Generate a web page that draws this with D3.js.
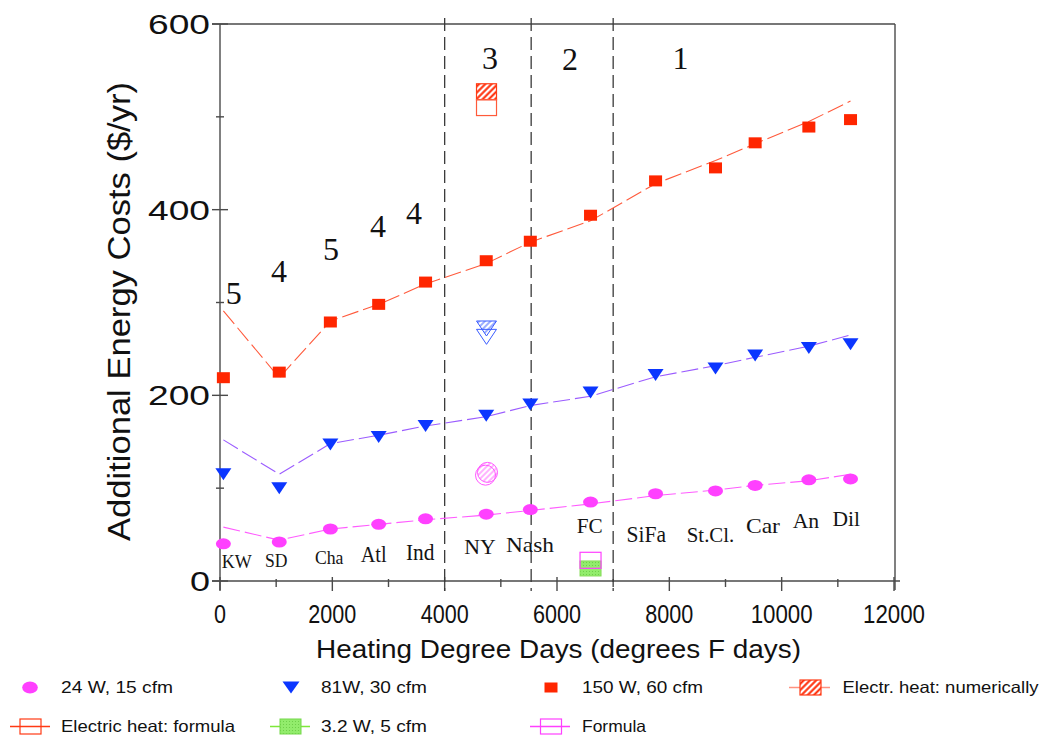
<!DOCTYPE html>
<html>
<head>
<meta charset="utf-8">
<script src="https://cdn.jsdelivr.net/npm/d3@7"></script>
<style>
  body { margin: 0; background: #fff; }
  text { font-family: "Liberation Sans", Arial, sans-serif; }
  .serif { font-family: "Liberation Serif", "Times New Roman", serif; }
</style>
</head>
<body>
<svg id="chart" width="1044" height="738"></svg>
<script>
// ---- data ---------------------------------------------------------------
const cities = ["KW", "SD", "Cha", "Atl", "Ind", "NY", "Nash", "FC", "SiFa", "St.Cl.", "Car", "An", "Dil"];
const hdd = [60, 1055, 1965, 2825, 3660, 4740, 5525, 6597, 7755, 8822, 9528, 10484, 11226];

// simulated annual costs ($/yr) per fan size
const cost150W = [219, 225, 279, 298, 322, 345, 366, 394, 431, 445, 472, 489, 497];
const cost81W  = [115, 100, 147, 155, 167, 178, 190, 203, 222, 229, 243, 251, 255];
const cost24W  = [40, 42, 56, 61, 67, 72, 77, 85, 94, 97, 103, 109, 110];

// formula estimates per fan size (dashed lines)
const fit150W = [291, 219, 280, 298, 320, 342, 365, 388, 428, 453, 471, 495, 517];
const fit81W  = [152, 115, 148, 157, 167, 177, 189, 199, 220, 232, 241, 253, 265];
const fit24W  = [58, 44, 56, 61, 66, 71, 76, 83, 92, 98, 103, 108, 115];

// electric-heat comparison at New York
const nyHdd = 4745;
const elecNumeric150 = 527, elecFormula150 = 510;
const elecNumeric81 = 272, elecFormula81 = 263;
const elecNumeric24 = 117, elecFormula24 = 114;

// 3.2 W fan at Fort Collins
const fcHdd = 6597;
const cost3W = 13.5, formula3W = 22.3;

// climate zones
const zoneBounds = [4000, 5540, 7000];
const zoneNumbers = ["5", "4", "5", "4", "4", "3", "2", "1"];

const xTicks = [0, 2000, 4000, 6000, 8000, 10000, 12000];
const xMinorTicks = [1000, 3000, 5000, 7000, 9000, 11000];
const yTicks = [0, 200, 400, 600];
const yMinorTicks = [100, 300, 500];

const legendLabels = ["24 W, 15 cfm", "81W, 30 cfm", "150 W, 60 cfm", "Electr. heat: numerically",
                      "Electric heat: formula", "3.2 W, 5 cfm", "Formula"];

// ---- label placement (data coordinates) ---------------------------------
const cityLabelHdd  = [297, 1000, 1944, 2736, 3564, 4629, 5519, 6582, 7590, 8733, 9667, 10432, 11150];
const cityLabelCost = [14, 15.4, 18.3, 20.8, 22.6, 29, 31.5, 51.3, 42.3, 41.6, 51.3, 57.3, 59.1];
const cityLabelSize = [19, 19, 18, 23, 23, 22, 22, 21, 23, 22, 22, 21, 22];
const cityLabelLen  = [30, 22.5, 28.5, 26, 28.5, 31.5, 48, 26, 39.5, 47.5, 34, 26.5, 27.5];
const zoneNumberHdd  = [244, 1050, 1976, 2813, 3454, 4807, 6231, 8198];
const zoneNumberCost = [298.6, 321.8, 346, 370.2, 385, 551.6, 550.5, 552];

// ---- setup --------------------------------------------------------------
const svg = d3.select("#chart");
const x = d3.scaleLinear().domain([0, 12000]).range([220, 894]);
const y = d3.scaleLinear().domain([0, 600]).range([581, 24]);

const RED = "#ff2600", RED_LINE = "#ff5a3c";
const BLUE = "#0b36ff", PURPLE_LINE = "#9b5cff";
const MAG = "#ff40ff", MAG_LINE = "#ff5cff";
const AXIS = "#4a4a4a";

// patterns
const defs = svg.append("defs");
function hatch(id, color, w, gap) {
  const p = defs.append("pattern").attr("id", id).attr("patternUnits", "userSpaceOnUse")
    .attr("width", gap).attr("height", gap).attr("patternTransform", "rotate(45)");
  p.append("rect").attr("width", gap).attr("height", gap).attr("fill", "#fff");
  p.append("line").attr("x1", gap / 2).attr("x2", gap / 2).attr("y1", 0).attr("y2", gap)
    .attr("stroke", color).attr("stroke-width", w);
}
hatch("hatchRed", RED, 2, 4.4);
hatch("hatchBlue", "#3a5cff", 1, 4);
hatch("hatchMag", "#ff66ff", 1, 4);
const dots = defs.append("pattern").attr("id", "dotsGreen").attr("patternUnits", "userSpaceOnUse")
  .attr("width", 3).attr("height", 3);
dots.append("rect").attr("width", 3).attr("height", 3).attr("fill", "#92ec6c");
dots.append("rect").attr("x", 1).attr("y", 1).attr("width", 1).attr("height", 1).attr("fill", "#6fcf4a");

// ---- frame & axes -------------------------------------------------------
const frame = svg.append("g").attr("stroke", AXIS).attr("stroke-width", 1.4).attr("fill", "none");
frame.append("line").attr("x1", x(0)).attr("x2", x(0)).attr("y1", y(600)).attr("y2", y(0) + 9);
frame.append("line").attr("x1", x(0) - 8).attr("x2", x(12000) + 6).attr("y1", y(0)).attr("y2", y(0));
frame.append("line").attr("x1", x(0) - 8).attr("x2", x(12000) + 1).attr("y1", y(600)).attr("y2", y(600));
frame.append("line").attr("x1", x(12000) + 1).attr("x2", x(12000) + 1).attr("y1", y(600)).attr("y2", y(0) + 9);

frame.selectAll("line.xt").data(xTicks).join("line").attr("class", "xt")
  .attr("x1", d => x(d)).attr("x2", d => x(d)).attr("y1", y(0) - 4).attr("y2", y(0) + 10);
frame.selectAll("line.xm").data(xMinorTicks).join("line").attr("class", "xm")
  .attr("x1", d => x(d)).attr("x2", d => x(d)).attr("y1", y(0) - 2).attr("y2", y(0) + 6);
frame.selectAll("line.yt").data(yTicks).join("line").attr("class", "yt")
  .attr("x1", x(0) - 8).attr("x2", x(0) + 8).attr("y1", d => y(d)).attr("y2", d => y(d));
frame.selectAll("line.ym").data(yMinorTicks).join("line").attr("class", "ym")
  .attr("x1", x(0) - 4).attr("x2", x(0) + 4).attr("y1", d => y(d)).attr("y2", d => y(d));

svg.append("g").selectAll("text").data(xTicks).join("text")
  .attr("x", d => x(d)).attr("y", 623).attr("text-anchor", "middle")
  .attr("font-size", 26).attr("fill", "#111")
  .attr("textLength", d => String(d).length === 1 ? 12 : String(d).length === 4 ? 48 : 62)
  .attr("lengthAdjust", "spacingAndGlyphs")
  .text(d => d);

svg.append("g").selectAll("text").data(yTicks).join("text")
  .attr("x", 210).attr("y", d => y(d) + 10).attr("text-anchor", "end")
  .attr("font-size", 28).attr("fill", "#111")
  .attr("textLength", d => String(d).length === 1 ? 20 : 62)
  .attr("lengthAdjust", "spacingAndGlyphs")
  .text(d => d);

svg.append("text").attr("x", 558.5).attr("y", 658).attr("text-anchor", "middle")
  .attr("font-size", 25).attr("fill", "#111")
  .attr("textLength", 485).attr("lengthAdjust", "spacingAndGlyphs")
  .text("Heating Degree Days (degrees F days)");

svg.append("text").attr("transform", "translate(130,311.5) rotate(-90)").attr("text-anchor", "middle")
  .attr("font-size", 31).attr("fill", "#111")
  .attr("textLength", 459).attr("lengthAdjust", "spacingAndGlyphs")
  .text("Additional Energy Costs ($/yr)");

// ---- climate zone boundaries -------------------------------------------
svg.append("g").selectAll("line").data(zoneBounds).join("line")
  .attr("x1", d => x(d)).attr("x2", d => x(d))
  .attr("y1", y(600) - 6).attr("y2", y(0) + 10)
  .attr("stroke", "#3a3a3a").attr("stroke-width", 1.3).attr("stroke-dasharray", "13,6");

// ---- formula lines ------------------------------------------------------
const line = d3.line().x(d => x(d[0])).y(d => y(d[1]));
[[fit150W, RED_LINE], [fit81W, PURPLE_LINE], [fit24W, MAG_LINE]].forEach(([vals, col]) => {
  svg.append("path").datum(d3.zip(hdd, vals)).attr("d", line)
    .attr("fill", "none").attr("stroke", col).attr("stroke-width", 1.1)
    .attr("stroke-dasharray", "17,5");
});

// ---- simulated points ---------------------------------------------------
const triDown = (cx, cy, w, h) => `M${cx - w / 2},${cy - h / 2}L${cx + w / 2},${cy - h / 2}L${cx},${cy + h / 2}Z`;

svg.append("g").selectAll("rect").data(d3.zip(hdd, cost150W)).join("rect")
  .attr("x", d => x(d[0]) - 6.5).attr("y", d => y(d[1]) - 5.5)
  .attr("width", 13).attr("height", 11).attr("fill", RED);

svg.append("g").selectAll("path").data(d3.zip(hdd, cost81W)).join("path")
  .attr("d", d => triDown(x(d[0]), y(d[1]), 16, 12)).attr("fill", BLUE);

svg.append("g").selectAll("ellipse").data(d3.zip(hdd, cost24W)).join("ellipse")
  .attr("cx", d => x(d[0])).attr("cy", d => y(d[1])).attr("rx", 7.5).attr("ry", 5.5).attr("fill", MAG);

// ---- electric heat comparison (NY) -------------------------------------
const cmp = svg.append("g");
cmp.append("rect").attr("x", x(nyHdd) - 10).attr("y", y(elecNumeric150) - 8).attr("width", 20).attr("height", 16)
  .attr("fill", "url(#hatchRed)").attr("stroke", "#ff3a14").attr("stroke-width", 1.2);
cmp.append("rect").attr("x", x(nyHdd) - 10).attr("y", y(elecFormula150) - 8).attr("width", 20).attr("height", 16)
  .attr("fill", "none").attr("stroke", "#ff5a3a").attr("stroke-width", 1.2);
cmp.append("path").attr("d", triDown(x(nyHdd), y(elecNumeric81), 20, 15))
  .attr("fill", "url(#hatchBlue)").attr("stroke", "#3a5cff").attr("stroke-width", 1);
cmp.append("path").attr("d", triDown(x(nyHdd), y(elecFormula81), 20, 15))
  .attr("fill", "none").attr("stroke", "#3a5cff").attr("stroke-width", 1);
cmp.append("circle").attr("cx", x(nyHdd) + 1).attr("cy", y(elecNumeric24)).attr("r", 10)
  .attr("fill", "url(#hatchMag)").attr("stroke", "#ff55ff").attr("stroke-width", 1);
cmp.append("circle").attr("cx", x(nyHdd) - 1).attr("cy", y(elecFormula24)).attr("r", 10)
  .attr("fill", "none").attr("stroke", "#ff55ff").attr("stroke-width", 1);

// ---- small fan (FC) -----------------------------------------------------
cmp.append("rect").attr("x", x(fcHdd) - 10.5).attr("y", y(cost3W) - 7.5).attr("width", 21).attr("height", 15)
  .attr("fill", "url(#dotsGreen)").attr("stroke", "#86dc58").attr("stroke-width", 1);
cmp.append("rect").attr("x", x(fcHdd) - 10.5).attr("y", y(formula3W) - 8).attr("width", 21).attr("height", 16)
  .attr("fill", "none").attr("stroke", MAG).attr("stroke-width", 1.2);

// ---- city labels & zone numbers ----------------------------------------
svg.append("g").selectAll("text").data(cities).join("text").attr("class", "serif")
  .attr("x", (d, i) => x(cityLabelHdd[i])).attr("y", (d, i) => y(cityLabelCost[i]))
  .attr("text-anchor", "middle").attr("fill", "#141414")
  .attr("font-size", (d, i) => cityLabelSize[i])
  .attr("textLength", (d, i) => cityLabelLen[i]).attr("lengthAdjust", "spacingAndGlyphs")
  .text(d => d);

svg.append("g").selectAll("text").data(zoneNumbers).join("text").attr("class", "serif")
  .attr("x", (d, i) => x(zoneNumberHdd[i])).attr("y", (d, i) => y(zoneNumberCost[i]))
  .attr("text-anchor", "middle").attr("fill", "#111").attr("font-size", 32)
  .text(d => d);

// ---- legend -------------------------------------------------------------
const lg = svg.append("g");
const r1 = 687.5, r2 = 726.5;
lg.append("ellipse").attr("cx", 30).attr("cy", r1).attr("rx", 7.8).attr("ry", 6).attr("fill", MAG);
lg.append("path").attr("d", triDown(291, r1, 17, 12)).attr("fill", BLUE);
lg.append("rect").attr("x", 544.5).attr("y", r1 - 5).attr("width", 13).attr("height", 10).attr("fill", RED);
lg.append("line").attr("x1", 789).attr("x2", 830).attr("y1", r1).attr("y2", r1).attr("stroke", "#ff9280").attr("stroke-width", 1.5);
lg.append("rect").attr("x", 800).attr("y", r1 - 7.5).attr("width", 21).attr("height", 15)
  .attr("fill", "url(#hatchRed)").attr("stroke", "#ff3a14").attr("stroke-width", 1.2);

lg.append("line").attr("x1", 10).attr("x2", 50).attr("y1", r2).attr("y2", r2).attr("stroke", "#ff3a14").attr("stroke-width", 1.3);
lg.append("rect").attr("x", 20).attr("y", r2 - 7.5).attr("width", 21).attr("height", 15)
  .attr("fill", "none").attr("stroke", "#ff3a14").attr("stroke-width", 1.2);
lg.append("line").attr("x1", 270).attr("x2", 310).attr("y1", r2).attr("y2", r2).attr("stroke", "#7ee83a").attr("stroke-width", 1.3);
lg.append("rect").attr("x", 280).attr("y", r2 - 7.5).attr("width", 21).attr("height", 15)
  .attr("fill", "url(#dotsGreen)").attr("stroke", "#74d84a").attr("stroke-width", 1);
lg.append("line").attr("x1", 530).attr("x2", 570).attr("y1", r2).attr("y2", r2).attr("stroke", MAG).attr("stroke-width", 1.3);
lg.append("rect").attr("x", 540.5).attr("y", r2 - 7.5).attr("width", 21).attr("height", 15)
  .attr("fill", "none").attr("stroke", MAG).attr("stroke-width", 1.2);

const legendX = [61, 321, 582, 842.5, 61, 321, 582];
const legendY = [693.3, 693.3, 693.3, 693.3, 732.3, 732.3, 732.3];
const legendLen = [112, 106, 121, 196, 174, 106, 64];
lg.selectAll("text").data(legendLabels).join("text")
  .attr("x", (d, i) => legendX[i]).attr("y", (d, i) => legendY[i])
  .attr("font-size", 16.5).attr("fill", "#111")
  .attr("textLength", (d, i) => legendLen[i]).attr("lengthAdjust", "spacingAndGlyphs")
  .text(d => d);
</script>
</body>
</html>
